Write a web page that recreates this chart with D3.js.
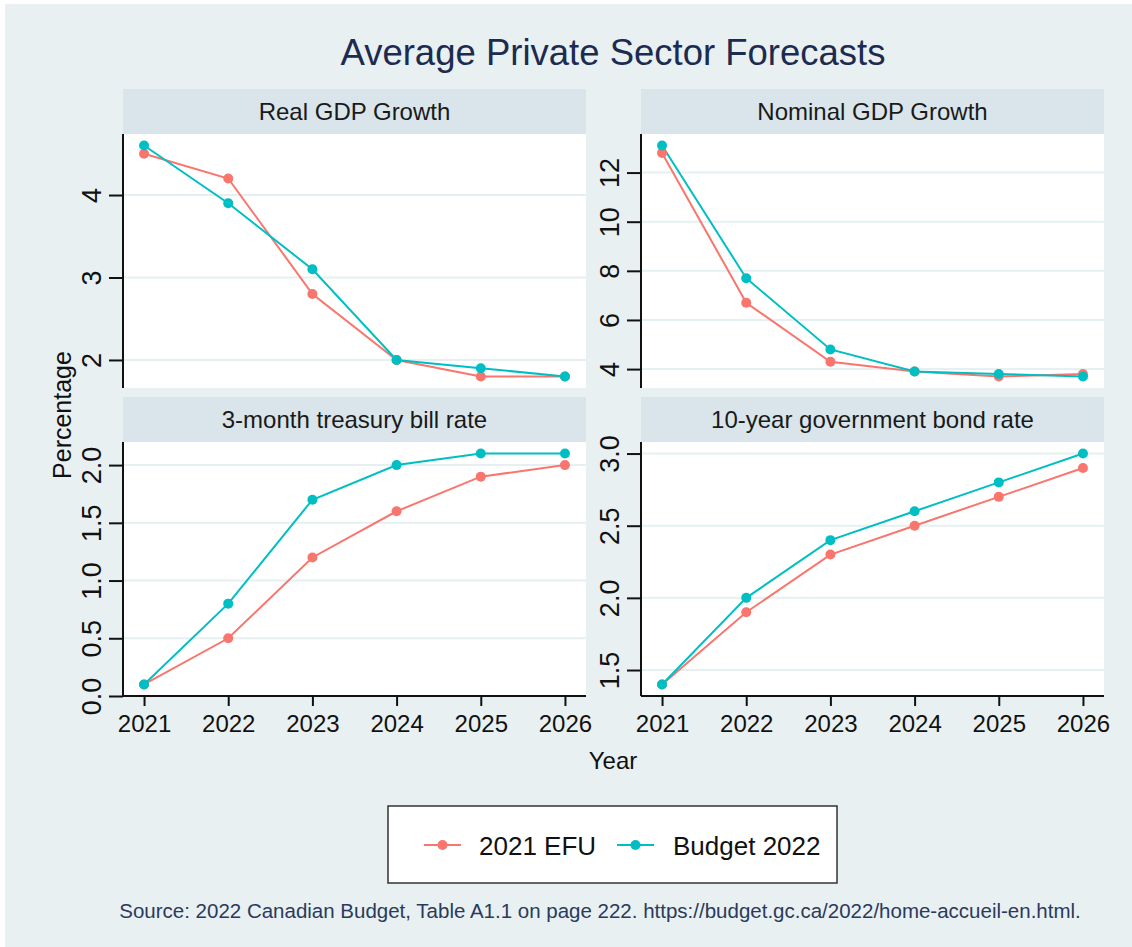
<!DOCTYPE html>
<html>
<head>
<meta charset="utf-8">
<script src="https://cdn.jsdelivr.net/npm/d3@7"></script>
<style>
  html, body { margin: 0; padding: 0; background: #ffffff; }
  svg { display: block; }
  text { font-family: "Liberation Sans", Arial, sans-serif; }
</style>
</head>
<body>
<script>
// ---- data ----
const years = [2021, 2022, 2023, 2024, 2025, 2026];
const panelTitles = ["Real GDP Growth", "Nominal GDP Growth", "3-month treasury bill rate", "10-year government bond rate"];
const seriesNames = ["2021 EFU", "Budget 2022"];
const efuReal    = [4.5, 4.2, 2.8, 2.0, 1.8, 1.8];
const efuNominal = [12.8, 6.7, 4.3, 3.9, 3.7, 3.8];
const efuTbill   = [0.1, 0.5, 1.2, 1.6, 1.9, 2.0];
const efuBond    = [1.4, 1.9, 2.3, 2.5, 2.7, 2.9];
const budReal    = [4.6, 3.9, 3.1, 2.0, 1.9, 1.8];
const budNominal = [13.1, 7.7, 4.8, 3.9, 3.8, 3.7];
const budTbill   = [0.1, 0.8, 1.7, 2.0, 2.1, 2.1];
const budBond    = [1.4, 2.0, 2.4, 2.6, 2.8, 3.0];
const yTicksReal    = [2, 3, 4];
const yTicksNominal = [4, 6, 8, 10, 12];
const yTicksTbill   = [0.0, 0.5, 1.0, 1.5, 2.0];
const yTicksBond    = [1.5, 2.0, 2.5, 3.0];
const titleText = "Average Private Sector Forecasts";
const sourceText = "Source: 2022 Canadian Budget, Table A1.1 on page 222. https://budget.gc.ca/2022/home-accueil-en.html.";

const panels = [
  { title: panelTitles[0], series: [efuReal, budReal], ticks: yTicksReal, fmt: d3.format("d") },
  { title: panelTitles[1], series: [efuNominal, budNominal], ticks: yTicksNominal, fmt: d3.format("d") },
  { title: panelTitles[2], series: [efuTbill, budTbill], ticks: yTicksTbill, fmt: d3.format(".1f") },
  { title: panelTitles[3], series: [efuBond, budBond], ticks: yTicksBond, fmt: d3.format(".1f") }
];
const colors = ["#F8766D", "#00BFC4"];

// ---- layout ----
const W = 1132, H = 947;
const colX = [123, 641];
const panelW = 463;
const headerY = [89, 397];
const headerH = 45;
const plotH = 254;

const svg = d3.select("body").append("svg").attr("width", W).attr("height", H);
svg.append("rect").attr("x", 0).attr("y", 0).attr("width", W).attr("height", H).attr("fill", "#ffffff");
svg.append("rect").attr("x", 5).attr("y", 4).attr("width", W - 5).attr("height", H - 4).attr("fill", "#e8f0f2");

svg.append("text").attr("x", 613).attr("y", 65).attr("text-anchor", "middle")
  .attr("font-size", 36.5).attr("fill", "#1c2b4f").text(titleText);

const xExt = d3.extent(years);
const xPad = (xExt[1] - xExt[0]) * 0.05;

panels.forEach((p, i) => {
  const col = i % 2, row = Math.floor(i / 2);
  const x0 = colX[col];
  const hy = headerY[row];
  const py = hy + headerH;
  const g = svg.append("g");

  // header strip
  g.append("rect").attr("x", x0).attr("y", hy).attr("width", panelW).attr("height", headerH).attr("fill", "#d9e5ea");
  g.append("text").attr("x", x0 + panelW / 2).attr("y", hy + 31).attr("text-anchor", "middle")
    .attr("font-size", 24).attr("fill", "#1a1a1a").text(p.title);

  // plot bg
  g.append("rect").attr("x", x0).attr("y", py).attr("width", panelW).attr("height", plotH).attr("fill", "#ffffff");

  const allV = p.series[0].concat(p.series[1]);
  const ext = d3.extent(allV);
  const pad = (ext[1] - ext[0]) * 0.05;
  const y = d3.scaleLinear().domain([ext[0] - pad, ext[1] + pad]).range([py + plotH, py]);
  const x = d3.scaleLinear().domain([xExt[0] - xPad, xExt[1] + xPad]).range([x0, x0 + panelW]);

  // grid
  g.selectAll(".grid").data(p.ticks).enter().append("line")
    .attr("x1", x0).attr("x2", x0 + panelW)
    .attr("y1", d => y(d)).attr("y2", d => y(d))
    .attr("stroke", "#e6eff2").attr("stroke-width", 2);

  // y axis
  const yAxis = d3.axisLeft(y).tickValues(p.ticks).tickFormat(p.fmt).tickSize(14).tickPadding(7);
  const ya = g.append("g").attr("transform", `translate(${x0},0)`).call(yAxis);
  ya.select(".domain").remove();
  ya.selectAll(".tick line").attr("stroke", "#111").attr("stroke-width", 2);
  ya.selectAll(".tick text").attr("font-size", 27).attr("fill", "#111")
    .attr("font-family", "Liberation Sans, Arial, sans-serif")
    .attr("transform", "rotate(-90)")
    .attr("x", 0).attr("y", -22).attr("dy", 0).attr("text-anchor", "middle");
  g.append("line").attr("x1", x0).attr("x2", x0).attr("y1", py).attr("y2", py + plotH)
    .attr("stroke", "#111").attr("stroke-width", 2);

  // x axis for bottom row
  if (row === 1) {
    const xAxis = d3.axisBottom(x).tickValues(years).tickFormat(d3.format("d")).tickSize(10).tickPadding(6);
    const xa = g.append("g").attr("transform", `translate(0,${py + plotH})`).call(xAxis);
    xa.select(".domain").remove();
    xa.selectAll(".tick line").attr("stroke", "#111").attr("stroke-width", 2);
    xa.selectAll(".tick text").attr("font-size", 24).attr("fill", "#111")
      .attr("font-family", "Liberation Sans, Arial, sans-serif").attr("dy", "0.82em");
    g.append("line").attr("x1", x0).attr("x2", x0 + panelW).attr("y1", py + plotH).attr("y2", py + plotH)
      .attr("stroke", "#111").attr("stroke-width", 2);
  }

  const line = d3.line().x((d, j) => x(years[j])).y(d => y(d));
  p.series.forEach((s, k) => {
    g.append("path").datum(s).attr("d", line).attr("fill", "none")
      .attr("stroke", colors[k]).attr("stroke-width", 2);
  });
  p.series.forEach((s, k) => {
    g.selectAll(".pt" + k).data(s).enter().append("circle")
      .attr("cx", (d, j) => x(years[j])).attr("cy", d => y(d)).attr("r", 5)
      .attr("fill", colors[k]);
  });
});

// axis titles
svg.append("text").attr("transform", "translate(71,415) rotate(-90)").attr("text-anchor", "middle")
  .attr("font-size", 25).attr("fill", "#111").text("Percentage");
svg.append("text").attr("x", 613).attr("y", 769).attr("text-anchor", "middle")
  .attr("font-size", 24).attr("fill", "#111").text("Year");

// legend
const lg = svg.append("g");
lg.append("rect").attr("x", 388).attr("y", 806).attr("width", 449).attr("height", 77)
  .attr("fill", "#ffffff").attr("stroke", "#333").attr("stroke-width", 1.5);
const legX = [424, 617];
const legTextX = [479, 673];
seriesNames.forEach((n, k) => {
  lg.append("line").attr("x1", legX[k]).attr("x2", legX[k] + 37).attr("y1", 845).attr("y2", 845)
    .attr("stroke", colors[k]).attr("stroke-width", 2);
  lg.append("circle").attr("cx", legX[k] + 18.5).attr("cy", 845).attr("r", 5).attr("fill", colors[k]);
  lg.append("text").attr("x", legTextX[k]).attr("y", 855).attr("font-size", 26).attr("fill", "#111").text(n);
});

// source
svg.append("text").attr("x", 600).attr("y", 918).attr("text-anchor", "middle")
  .attr("font-size", 20.5).attr("fill", "#2b3a5c").text(sourceText);
</script>
</body>
</html>
